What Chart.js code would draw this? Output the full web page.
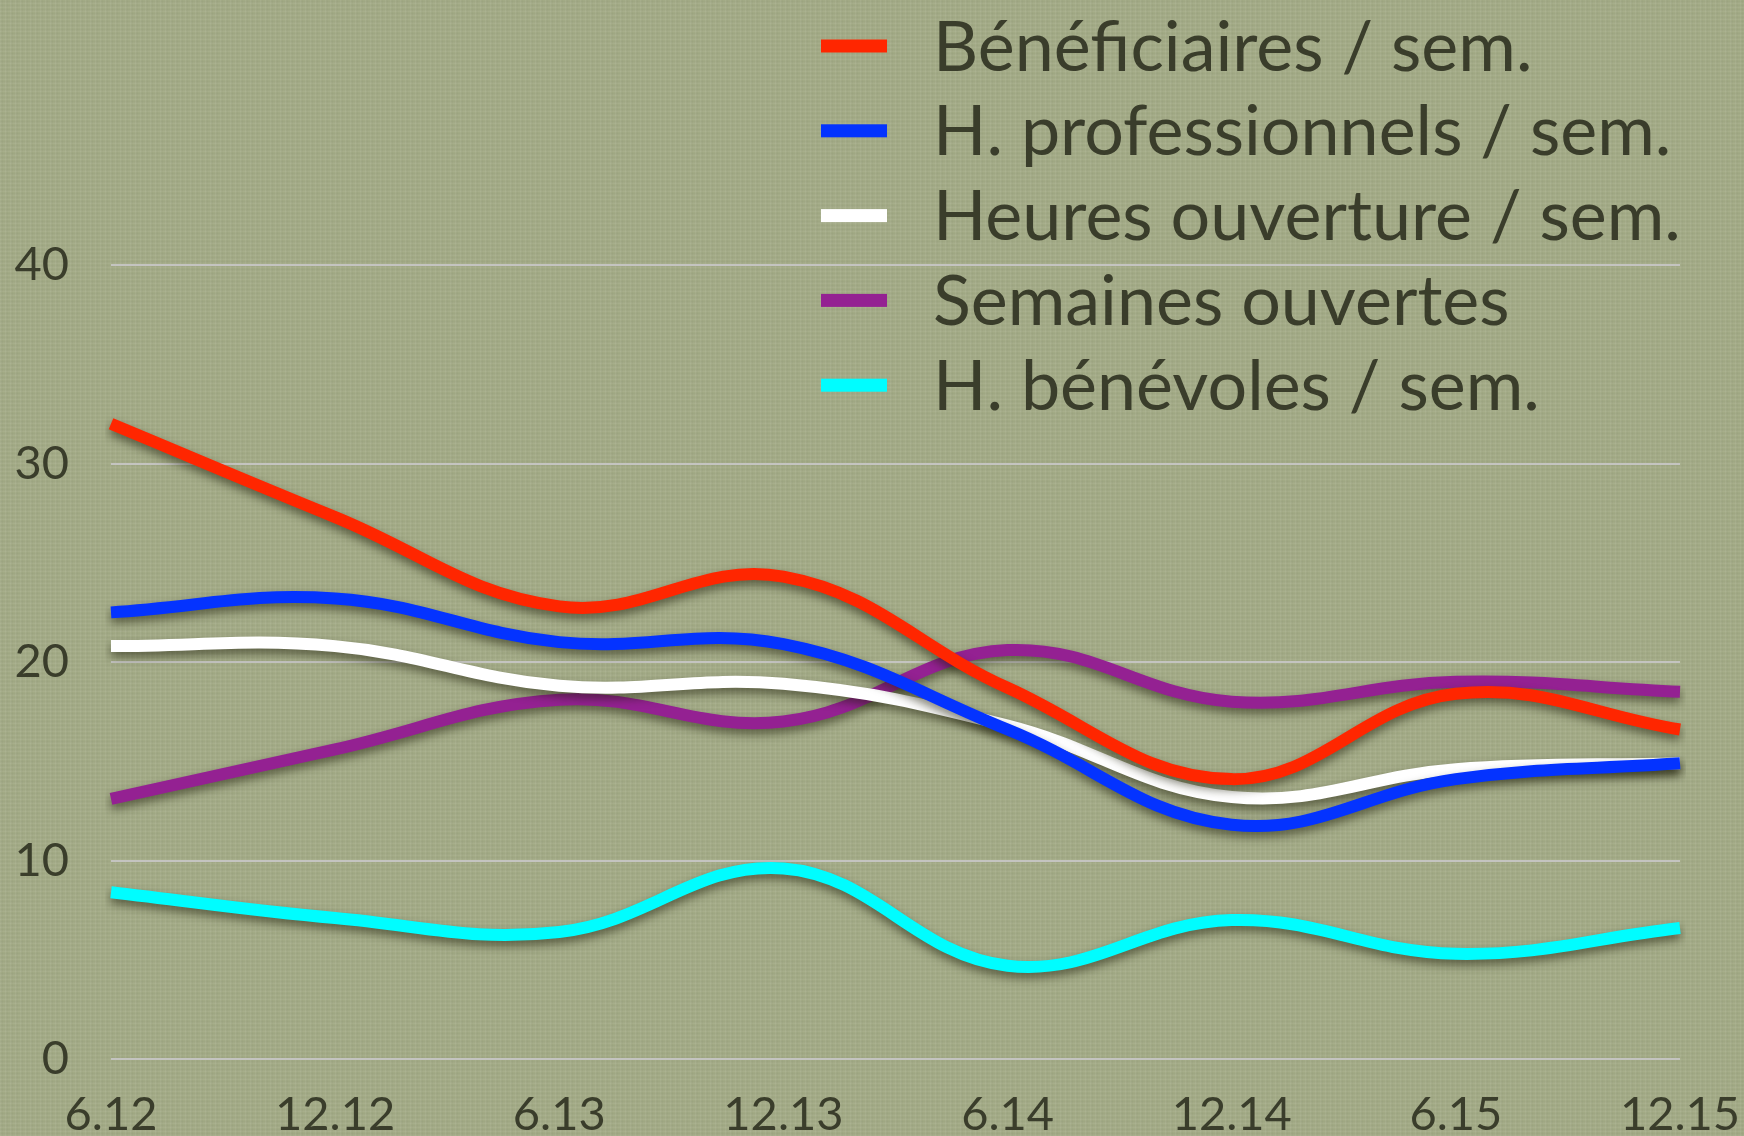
<!DOCTYPE html>
<html>
<head>
<meta charset="utf-8">
<script src="https://cdn.jsdelivr.net/npm/chart.js@4.4.1/dist/chart.umd.min.js"></script>
<style>
  html, body { margin: 0; padding: 0; }
  body {
    width: 1744px; height: 1136px; overflow: hidden;
    background-color: #a3ab86;
    background-image:
      repeating-linear-gradient(90deg, rgba(255,255,255,0.05) 0px, rgba(255,255,255,0.05) 1px, rgba(0,0,0,0.04) 2px, rgba(0,0,0,0) 3px, rgba(0,0,0,0) 5px),
      repeating-linear-gradient(0deg, rgba(255,255,255,0.04) 0px, rgba(255,255,255,0.04) 1px, rgba(0,0,0,0.03) 2px, rgba(0,0,0,0) 4px);
  }
  #wrap { position: absolute; left: 0; top: 0; width: 1744px; height: 1136px; }
</style>
</head>
<body>
<div id="wrap"><canvas id="c" width="1744" height="1136"></canvas></div>
<script>
const categories = ["6.12", "12.12", "6.13", "12.13", "6.14", "12.14", "6.15", "12.15"];
const seriesNames = ["Bénéficiaires / sem.", "H. professionnels / sem.", "Heures ouverture / sem.", "Semaines ouvertes", "H. bénévoles / sem."];
const beneficiaires = [32.0, 27.3, 22.8, 24.3, 18.7, 14.1, 18.4, 16.6];
const hProfessionnels = [22.5, 23.2, 21.0, 20.9, 16.6, 11.8, 14.1, 14.9];
const heuresOuverture = [20.8, 20.8, 18.8, 18.9, 16.8, 13.2, 14.6, 14.9];
const semainesOuvertes = [13.1, 15.6, 18.1, 17.0, 20.6, 18.0, 19.0, 18.5];
const hBenevoles = [8.4, 7.1, 6.4, 9.6, 4.7, 7.0, 5.3, 6.6];
const yTicks = [0, 10, 20, 30, 40];
const seriesColors = ["#ff2600", "#0433ff", "#ffffff", "#942192", "#00fdff"];

const FONT = "Lato, 'Open Sans', sans-serif";
const TEXT = "#3a3d2b";

const shadowPlugin = {
  id: 'lineShadow',
  beforeDatasetDraw(chart) {
    const ctx = chart.ctx;
    ctx.save();
    ctx.shadowColor = 'rgba(30,30,10,0.55)';
    ctx.shadowBlur = 10;
    ctx.shadowOffsetX = 0;
    ctx.shadowOffsetY = 5;
  },
  afterDatasetDraw(chart) {
    chart.ctx.restore();
  }
};

const legendPlugin = {
  id: 'floatLegend',
  afterDraw(chart) {
    const ctx = chart.ctx;
    ctx.save();
    const x0 = 821, sw = 66, sh = 13, top = 46, step = 84.8;
    ctx.font = "70px " + FONT;
    ctx.textBaseline = 'middle';
    ctx.textAlign = 'left';
    chart.data.datasets.forEach((ds, i) => {
      const cy = top + i * step;
      ctx.fillStyle = ds.borderColor;
      ctx.fillRect(x0, cy - sh / 2, sw, sh);
      ctx.fillStyle = TEXT;
      ctx.fillText(ds.label, 933, cy + 2);
    });
    ctx.restore();
  }
};

const dataArrays = [beneficiaires, hProfessionnels, heuresOuverture, semainesOuvertes, hBenevoles];

new Chart(document.getElementById('c'), {
  type: 'line',
  data: {
    labels: categories,
    datasets: dataArrays.map((arr, i) => ({
      label: seriesNames[i],
      data: arr,
      borderColor: seriesColors[i],
      backgroundColor: seriesColors[i],
      borderWidth: 12,
      pointRadius: 0,
      pointHoverRadius: 0,
      tension: 0.4,
      fill: false,
      borderCapStyle: 'butt'
    }))
  },
  options: {
    responsive: false,
    animation: false,
    layout: { padding: { top: 265, right: 64, left: 0, bottom: 0 } },
    plugins: { legend: { display: false }, tooltip: { enabled: false } },
    scales: {
      x: {
        grid: { display: false, drawTicks: false },
        border: { display: false },
        ticks: { color: TEXT, font: { family: FONT, size: 47 }, padding: 28, maxRotation: 0, autoSkip: false },
        afterFit(s) { s.height = 77; s.paddingRight = 0; s.paddingLeft = 0; }
      },
      y: {
        min: 0, max: 40,
        afterBuildTicks(s) { s.ticks = yTicks.map(v => ({ value: v })); },
        grid: { color: '#c4c4c0', lineWidth: 2, drawTicks: false },
        border: { display: false },
        ticks: { color: TEXT, font: { family: FONT, size: 47 }, padding: 42 },
        afterFit(s) { s.width = 111; }
      }
    }
  },
  plugins: [shadowPlugin, legendPlugin]
});
</script>
</body>
</html>
